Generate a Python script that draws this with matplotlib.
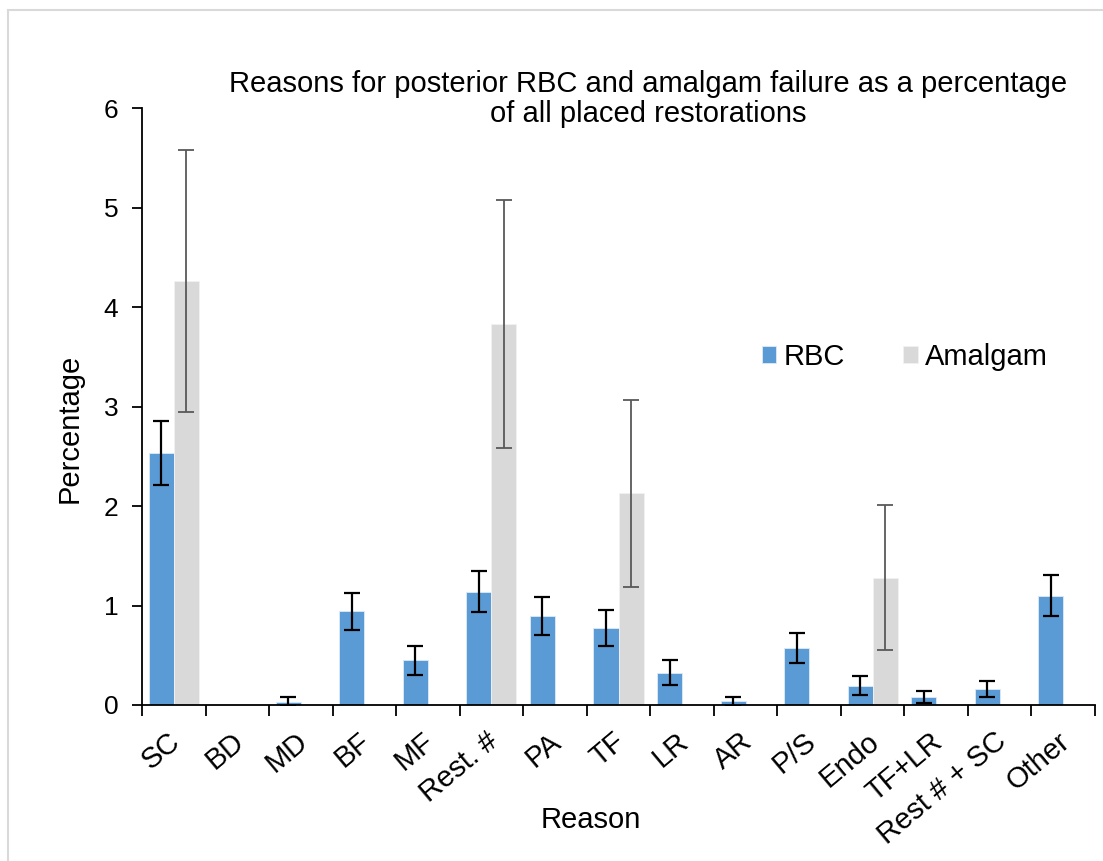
import matplotlib.pyplot as plt
import matplotlib.patches as mpatches
import matplotlib.transforms as mtransforms
import numpy as np

plt.rcParams['font.family'] = ['Liberation Sans', 'DejaVu Sans']

reasons = ['SC', 'BD', 'MD', 'BF', 'MF', 'Rest. #', 'PA', 'TF', 'LR', 'AR',
           'P/S', 'Endo', 'TF+LR', 'Rest # + SC', 'Other']
rbc = [2.53, 0.0, 0.035, 0.94, 0.45, 1.14, 0.895, 0.77, 0.325, 0.037,
       0.57, 0.195, 0.08, 0.16, 1.10]
rbc_err = [0.32, 0.0, 0.045, 0.19, 0.145, 0.21, 0.19, 0.18, 0.125, 0.045,
           0.15, 0.095, 0.06, 0.08, 0.21]
amalgam = [4.26, 0.0, 0.0, 0.0, 0.0, 3.83, 0.0, 2.13, 0.0, 0.0,
           0.0, 1.28, 0.0, 0.0, 0.0]
amalgam_err = [1.32, 0.0, 0.0, 0.0, 0.0, 1.25, 0.0, 0.94, 0.0, 0.0,
               0.0, 0.73, 0.0, 0.0, 0.0]

blue = '#5B9BD5'
grey = '#D9D9D9'
fs = 21

fig = plt.figure(figsize=(11.03, 8.61), dpi=100)
# light frame round the chart area
fig.patches.append(mpatches.Rectangle((8/1103, -0.05), 1.2, 1 - 10/861 + 0.05,
                                      transform=fig.transFigure, fill=False,
                                      edgecolor='#D9D9D9', linewidth=1.5))
ax = fig.add_axes([142/1103, 1 - 705/861, (1095 - 142)/1103, (705 - 108)/861])

x = np.arange(len(reasons))
w = 0.394
ax.bar(x - w/2, rbc, w, color=blue, edgecolor='#DDEBF7', linewidth=0.6,
       label='RBC', zorder=2)
ax.bar(x + w/2, amalgam, w, color=grey, edgecolor='#F2F2F2', linewidth=0.6,
       label='Amalgam', zorder=2)

# error bars only where there is a value
m = np.array(rbc_err) > 0
ax.errorbar((x - w/2)[m], np.array(rbc)[m], yerr=np.array(rbc_err)[m],
            fmt='none', ecolor='black', elinewidth=1.6, capsize=6,
            capthick=1.6, zorder=3)
m = np.array(amalgam_err) > 0
ax.errorbar((x + w/2)[m], np.array(amalgam)[m], yerr=np.array(amalgam_err)[m],
            fmt='none', ecolor='#595959', elinewidth=1.3, capsize=6,
            capthick=1.3, zorder=3)

ax.set_xlim(-0.5, len(reasons) - 0.5)
ax.set_ylim(0, 6)
ax.set_yticks(range(7))
ax.tick_params(axis='y', labelsize=19, length=7, width=1.3, direction='out', pad=10)

ax.set_xticks(np.arange(len(reasons) + 1) - 0.5)
ax.set_xticklabels([])
ax.tick_params(axis='x', which='major', length=8, width=1.3, direction='out')
ax.set_xticks(x, minor=True)
ax.set_xticklabels(reasons, minor=True, rotation=40, ha='right', va='top',
                   rotation_mode='anchor', fontsize=fs)
ax.tick_params(axis='x', which='minor', length=0, pad=16)
shift = mtransforms.ScaledTranslation(-6/100, 0, fig.dpi_scale_trans)
for lab in ax.get_xticklabels(minor=True):
    lab.set_transform(lab.get_transform() + shift)

for s in ['top', 'right']:
    ax.spines[s].set_visible(False)
for s in ['left', 'bottom']:
    ax.spines[s].set_linewidth(1.3)

fig.text(648/1103, 1 - 99/861,
         'Reasons for posterior RBC and amalgam failure as a percentage\nof all placed restorations',
         ha='center', va='center', fontsize=fs, linespacing=1.1)
fig.text(70/1103, 1 - 428/861, 'Percentage', rotation=90, ha='center',
         va='center', fontsize=fs)
fig.text(591/1103, 1 - 820/861, 'Reason', ha='center', va='center', fontsize=fs)

fig.legend(loc='center', bbox_to_anchor=(905/1103, 1 - 357/861), ncol=2,
           frameon=False, fontsize=fs, handlelength=0.5, handleheight=0.5,
           handletextpad=0.25, columnspacing=2.0)

fig.savefig('out.png', dpi=100)
